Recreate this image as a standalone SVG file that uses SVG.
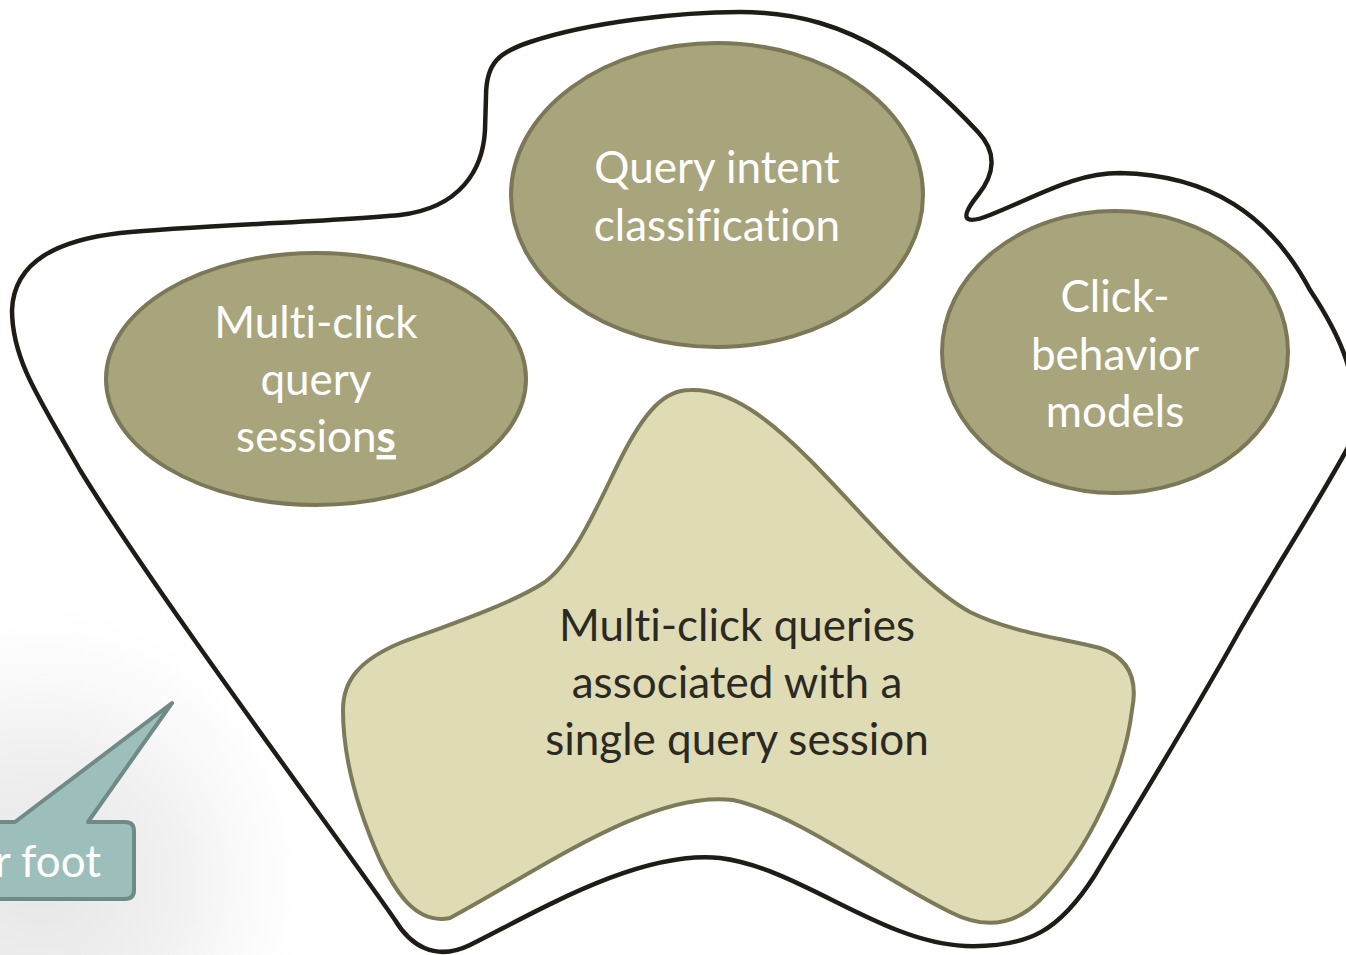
<svg xmlns="http://www.w3.org/2000/svg" width="1346" height="955" viewBox="0 0 1346 955">
<defs>
<radialGradient id="shade" cx="40" cy="880" r="300" gradientUnits="userSpaceOnUse">
<stop offset="0" stop-color="#e6e6e6"/>
<stop offset="0.5" stop-color="#f2f2f2"/>
<stop offset="1" stop-color="#ffffff" stop-opacity="0"/>
</radialGradient>
</defs>
<style>
.oval{fill:#a8a57c;stroke:#7b7757;stroke-width:4}
.lbl{font-family:Lato,"Open Sans",sans-serif;font-size:44px;fill:#ffffff;text-anchor:middle;font-variant-ligatures:none}
.dark{fill:#2b2a22}
.outer{fill:none;stroke:#1e1c14;stroke-width:4.5}
.blob{fill:#dfdbb5;stroke:#7d7a5a;stroke-width:4}
.callout{fill:#9dbfbc;stroke:#6f8a87;stroke-width:4;stroke-linejoin:round}
</style>
<rect width="1346" height="955" fill="#ffffff"/>
<rect x="0" y="580" width="360" height="375" fill="url(#shade)"/>
<g id="connectors"></g>
<g id="outer-boundary">
<path class="outer" d="M 486,96 C 486,62 500,52 530,42 C 590,22 680,12 740,12 C 800,12 845,28 885,52 C 920,74 950,102 978,132 C 998,153 994,175 978,195 C 958,220 965,225 990,215 C 1040,195 1075,173 1120,173 C 1210,175 1270,215 1310,290 C 1340,335 1362,380 1352,440 C 1320,500 1280,560 1240,630 C 1190,720 1140,800 1095,875 C 1060,930 1030,948 965,946 C 880,942 800,868 720,858 C 640,850 540,910 470,945 C 435,962 410,945 395,920 C 340,840 160,600 80,470 C 40,400 12,360 12,310 C 14,260 60,240 120,233 C 200,225 330,222 400,215 C 460,208 483,170 485,130 Z"/>
</g>
<g id="query-intent">
<ellipse class="oval" cx="717" cy="195" rx="206" ry="152"/>
<text class="lbl" x="717" y="183">Query intent</text>
<text class="lbl" x="717" y="241">classification</text>
</g>
<g id="multi-click-sessions">
<ellipse class="oval" cx="316" cy="379" rx="210" ry="126"/>
<text class="lbl" x="316" y="338">Multi-click</text>
<text class="lbl" x="316" y="395">query</text>
<text class="lbl" x="316" y="452">session<tspan font-weight="bold" text-decoration="underline">s</tspan></text>
</g>
<g id="click-behavior">
<ellipse class="oval" cx="1115" cy="352" rx="173" ry="141"/>
<text class="lbl" x="1115" y="312">Click-</text>
<text class="lbl" x="1115" y="370">behavior</text>
<text class="lbl" x="1115" y="427">models</text>
</g>
<g id="single-session">
<path class="blob" d="M 690,390 C 730,388 770,420 810,460 C 860,510 920,585 970,612 C 1010,632 1060,638 1100,648 C 1130,658 1138,680 1132,710 C 1125,770 1090,850 1040,900 C 1015,925 985,930 950,912 C 880,878 800,815 733,800 C 650,790 540,870 450,918 C 415,925 395,890 380,860 C 360,815 343,760 343,710 C 343,680 360,660 400,643 C 440,628 510,605 545,582 C 575,560 600,500 620,460 C 645,410 665,390 690,390 Z"/>
<text class="lbl dark" x="737" y="641">Multi-click queries</text>
<text class="lbl dark" x="737" y="698">associated with a</text>
<text class="lbl dark" x="737" y="755">single query session</text>
</g>
<g id="callout">
<path class="callout" d="M -30,822 L 15,822 L 172,703 L 88,822 L 125,822 Q 134,822 134,831 L 134,890 Q 134,899 125,899 L -30,899 Z"/>
<text class="lbl" x="101" y="877" style="text-anchor:end">r foot</text>
</g>
</svg>
